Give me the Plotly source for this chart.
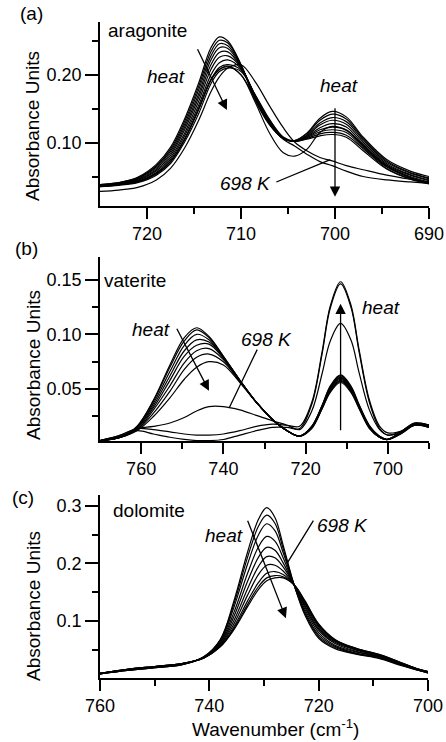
import plotly.graph_objects as go

FONT = "Liberation Sans, Arial, sans-serif"
W, H = 446, 742

# ---------------- Panel (a): aragonite ----------------
wn_a = [725, 723, 721, 719, 717.5, 716, 714.5, 713.2, 712.3, 711.4, 710, 708.5,
        707, 705.5, 704.3, 703, 701.6, 700.3, 698.8, 697, 694.5, 692, 690]
arag = [
    [0.038, 0.041, 0.049, 0.068, 0.093, 0.135, 0.188, 0.240, 0.256, 0.250, 0.215, 0.163, 0.127, 0.106, 0.103, 0.114, 0.136, 0.146, 0.138, 0.108, 0.075, 0.058, 0.050],
    [0.038, 0.041, 0.048, 0.066, 0.090, 0.131, 0.183, 0.234, 0.251, 0.247, 0.215, 0.165, 0.128, 0.106, 0.103, 0.113, 0.133, 0.142, 0.135, 0.106, 0.073, 0.056, 0.048],
    [0.037, 0.040, 0.047, 0.064, 0.087, 0.127, 0.178, 0.228, 0.246, 0.243, 0.214, 0.166, 0.129, 0.106, 0.102, 0.111, 0.129, 0.137, 0.131, 0.104, 0.071, 0.055, 0.047],
    [0.037, 0.040, 0.046, 0.062, 0.084, 0.123, 0.172, 0.222, 0.240, 0.239, 0.213, 0.167, 0.130, 0.106, 0.102, 0.110, 0.126, 0.133, 0.127, 0.101, 0.069, 0.053, 0.045],
    [0.037, 0.039, 0.045, 0.060, 0.081, 0.119, 0.167, 0.215, 0.233, 0.234, 0.212, 0.168, 0.131, 0.106, 0.102, 0.109, 0.122, 0.128, 0.123, 0.098, 0.067, 0.052, 0.044],
    [0.036, 0.039, 0.044, 0.058, 0.078, 0.114, 0.161, 0.208, 0.226, 0.228, 0.211, 0.169, 0.132, 0.107, 0.102, 0.108, 0.119, 0.123, 0.119, 0.096, 0.066, 0.050, 0.042],
    [0.036, 0.038, 0.043, 0.056, 0.075, 0.110, 0.155, 0.200, 0.218, 0.222, 0.209, 0.170, 0.133, 0.107, 0.102, 0.107, 0.116, 0.119, 0.115, 0.093, 0.064, 0.049, 0.041],
    [0.035, 0.038, 0.042, 0.054, 0.072, 0.105, 0.149, 0.193, 0.211, 0.215, 0.207, 0.170, 0.134, 0.108, 0.102, 0.106, 0.113, 0.115, 0.111, 0.091, 0.062, 0.047, 0.040],
    [0.035, 0.037, 0.041, 0.052, 0.069, 0.101, 0.143, 0.187, 0.205, 0.210, 0.205, 0.171, 0.135, 0.108, 0.102, 0.105, 0.110, 0.112, 0.108, 0.088, 0.061, 0.046, 0.039],
    # high-temperature spectra
    [0.036, 0.038, 0.042, 0.054, 0.072, 0.105, 0.150, 0.192, 0.208, 0.213, 0.200, 0.160, 0.115, 0.085, 0.080, 0.090, 0.115, 0.124, 0.118, 0.095, 0.065, 0.048, 0.040],
    [0.028, 0.030, 0.034, 0.045, 0.062, 0.092, 0.133, 0.175, 0.197, 0.210, 0.215, 0.190, 0.155, 0.122, 0.101, 0.088, 0.078, 0.073, 0.066, 0.060, 0.052, 0.046, 0.042],
    [0.036, 0.038, 0.042, 0.054, 0.072, 0.105, 0.150, 0.193, 0.208, 0.212, 0.200, 0.165, 0.128, 0.105, 0.095, 0.083, 0.072, 0.066, 0.058, 0.050, 0.045, 0.042, 0.040],
]

# ---------------- Panel (b): vaterite ----------------
wn_b = [770, 765, 761, 757, 753, 749.5, 746.5, 743.5, 740, 736, 732, 728, 724.5,
        721.5, 718.5, 716, 714, 711.5, 709, 707, 704.5, 702, 700, 696.5, 693.5, 690]
vat = [
    [0.003, 0.006, 0.016, 0.040, 0.072, 0.097, 0.106, 0.098, 0.080, 0.058, 0.038, 0.022, 0.012, 0.007, 0.016, 0.035, 0.053, 0.063, 0.053, 0.036, 0.017, 0.007, 0.004, 0.012, 0.019, 0.017],
    [0.003, 0.006, 0.016, 0.039, 0.070, 0.094, 0.104, 0.097, 0.080, 0.058, 0.038, 0.022, 0.012, 0.007, 0.016, 0.035, 0.052, 0.062, 0.052, 0.035, 0.016, 0.007, 0.004, 0.012, 0.019, 0.017],
    [0.003, 0.006, 0.015, 0.037, 0.066, 0.090, 0.100, 0.095, 0.079, 0.058, 0.038, 0.022, 0.012, 0.007, 0.016, 0.034, 0.051, 0.061, 0.051, 0.035, 0.016, 0.006, 0.004, 0.011, 0.018, 0.016],
    [0.003, 0.006, 0.015, 0.035, 0.062, 0.085, 0.095, 0.093, 0.079, 0.058, 0.038, 0.022, 0.012, 0.007, 0.015, 0.034, 0.051, 0.060, 0.051, 0.034, 0.016, 0.006, 0.004, 0.011, 0.018, 0.016],
    [0.003, 0.006, 0.014, 0.033, 0.058, 0.080, 0.090, 0.091, 0.078, 0.058, 0.038, 0.022, 0.012, 0.007, 0.015, 0.033, 0.050, 0.059, 0.050, 0.034, 0.015, 0.006, 0.004, 0.011, 0.018, 0.016],
    [0.003, 0.006, 0.013, 0.031, 0.053, 0.074, 0.085, 0.087, 0.077, 0.057, 0.038, 0.022, 0.012, 0.007, 0.015, 0.033, 0.049, 0.058, 0.049, 0.033, 0.015, 0.006, 0.004, 0.011, 0.017, 0.015],
    [0.003, 0.006, 0.013, 0.028, 0.048, 0.068, 0.079, 0.082, 0.075, 0.057, 0.038, 0.022, 0.012, 0.007, 0.015, 0.032, 0.048, 0.057, 0.048, 0.033, 0.015, 0.006, 0.004, 0.010, 0.017, 0.015],
    [0.003, 0.006, 0.012, 0.025, 0.042, 0.059, 0.070, 0.075, 0.072, 0.056, 0.038, 0.022, 0.012, 0.007, 0.014, 0.032, 0.047, 0.056, 0.047, 0.032, 0.014, 0.006, 0.004, 0.010, 0.017, 0.015],
    # 698 K and beyond
    [0.003, 0.008, 0.014, 0.016, 0.019, 0.024, 0.030, 0.034, 0.034, 0.031, 0.026, 0.021, 0.017, 0.013, 0.030, 0.064, 0.094, 0.110, 0.095, 0.065, 0.031, 0.013, 0.008, 0.012, 0.018, 0.017],
    [0.003, 0.008, 0.014, 0.013, 0.011, 0.009, 0.008, 0.008, 0.009, 0.012, 0.016, 0.018, 0.017, 0.016, 0.038, 0.084, 0.126, 0.148, 0.127, 0.086, 0.040, 0.016, 0.010, 0.012, 0.018, 0.017],
    [0.003, 0.007, 0.012, 0.009, 0.006, 0.004, 0.003, 0.003, 0.004, 0.008, 0.012, 0.015, 0.015, 0.014, 0.036, 0.082, 0.124, 0.146, 0.125, 0.084, 0.038, 0.014, 0.008, 0.011, 0.017, 0.016],
]

# ---------------- Panel (c): dolomite ----------------
wn_c = [760, 755, 750, 745, 741, 738, 735.5, 733, 731, 729.5, 728, 726.5, 724.5,
        722.5, 720, 717, 713, 709, 705, 702, 700]
dolo = [
    [0.008, 0.014, 0.019, 0.024, 0.038, 0.068, 0.135, 0.220, 0.277, 0.297, 0.280, 0.232, 0.163, 0.110, 0.070, 0.052, 0.042, 0.035, 0.023, 0.015, 0.010],
    [0.008, 0.014, 0.019, 0.024, 0.038, 0.067, 0.130, 0.211, 0.265, 0.284, 0.270, 0.226, 0.163, 0.113, 0.073, 0.054, 0.043, 0.036, 0.024, 0.015, 0.010],
    [0.008, 0.014, 0.019, 0.024, 0.038, 0.065, 0.124, 0.199, 0.250, 0.269, 0.257, 0.219, 0.163, 0.116, 0.076, 0.056, 0.044, 0.037, 0.024, 0.015, 0.010],
    [0.008, 0.015, 0.020, 0.025, 0.037, 0.063, 0.115, 0.183, 0.229, 0.247, 0.239, 0.210, 0.163, 0.120, 0.080, 0.058, 0.046, 0.038, 0.025, 0.016, 0.011],
    [0.009, 0.015, 0.020, 0.025, 0.037, 0.061, 0.108, 0.169, 0.211, 0.228, 0.223, 0.201, 0.163, 0.124, 0.084, 0.061, 0.047, 0.039, 0.026, 0.016, 0.011],
    [0.009, 0.015, 0.020, 0.025, 0.037, 0.059, 0.101, 0.156, 0.195, 0.212, 0.210, 0.194, 0.163, 0.127, 0.087, 0.063, 0.049, 0.040, 0.026, 0.016, 0.011],
    [0.009, 0.016, 0.021, 0.026, 0.036, 0.058, 0.095, 0.145, 0.181, 0.197, 0.197, 0.187, 0.163, 0.130, 0.090, 0.065, 0.050, 0.041, 0.027, 0.017, 0.012],
    [0.009, 0.016, 0.021, 0.026, 0.036, 0.056, 0.090, 0.135, 0.167, 0.183, 0.186, 0.181, 0.163, 0.132, 0.092, 0.066, 0.051, 0.041, 0.027, 0.017, 0.012],
    [0.009, 0.016, 0.021, 0.026, 0.036, 0.056, 0.087, 0.129, 0.160, 0.175, 0.179, 0.177, 0.163, 0.134, 0.094, 0.067, 0.052, 0.042, 0.028, 0.017, 0.012],
    [0.009, 0.016, 0.021, 0.026, 0.036, 0.055, 0.085, 0.125, 0.155, 0.170, 0.175, 0.175, 0.163, 0.135, 0.095, 0.068, 0.052, 0.042, 0.028, 0.017, 0.012],
]

# tick definitions
xa_major = [720, 710, 700, 690]
xa_minor = [715, 705, 695]
ya_major = [0.10, 0.20]
ya_labels = ["0.10", "0.20"]
ya_minor = [0.05, 0.15, 0.25]

xb_major = [760, 740, 720, 700]
xb_minor = [750, 730, 710, 690]
yb_major = [0.05, 0.10, 0.15]
yb_labels = ["0.05", "0.10", "0.15"]
yb_minor = [0.025, 0.075, 0.125]

xc_major = [760, 740, 720, 700]
xc_minor = [750, 730, 710]
yc_major = [0.1, 0.2, 0.3]
yc_labels = ["0.1", "0.2", "0.3"]
yc_minor = [0.05, 0.15, 0.25]

fig = go.Figure()

def add_curves(xs, curves, xa, ya):
    for ys in curves:
        fig.add_trace(go.Scatter(
            x=xs, y=ys, mode="lines", xaxis=xa, yaxis=ya,
            line=dict(color="black", width=1.2, shape="spline", smoothing=1.0),
            showlegend=False, hoverinfo="skip"))

add_curves(wn_a, arag, "x", "y")
add_curves(wn_b, vat, "x2", "y2")
add_curves(wn_c, dolo, "x3", "y3")

def px(x):
    return x / W

def py(y):
    return 1 - y / H

tickfont = dict(family=FONT, size=18, color="black")

def xaxis(rng, major, minor, anchor, right=429):
    return dict(domain=[px(100), px(right)], range=rng, anchor=anchor,
                automargin=False,
                showline=True, linecolor="black", linewidth=1.5,
                showgrid=False, zeroline=False,
                tickmode="array", tickvals=major, ticktext=[str(v) for v in major],
                ticks="outside", ticklen=11, tickwidth=1.5, tickcolor="black",
                minor=dict(tickmode="array", tickvals=minor, ticks="outside",
                           ticklen=6, tickwidth=1.5, tickcolor="black", showgrid=False),
                tickfont=tickfont)

def yaxis(rng, top, bottom, major, labels, minor, anchor):
    return dict(domain=[py(bottom), py(top)], range=rng, anchor=anchor,
                automargin=False,
                showline=True, linecolor="black", linewidth=1.5,
                showgrid=False, zeroline=False,
                tickmode="array", tickvals=major, ticktext=labels,
                ticks="outside", ticklen=13, tickwidth=1.5, tickcolor="black",
                minor=dict(tickmode="array", tickvals=minor, ticks="outside",
                           ticklen=6, tickwidth=1.5, tickcolor="black", showgrid=False),
                tickfont=tickfont)

fig.update_layout(
    template="none",
    width=W, height=H, margin=dict(l=0, r=0, t=0, b=0, pad=0), autosize=False,
    paper_bgcolor="white", plot_bgcolor="white",
    xaxis=xaxis([725, 690], xa_major, xa_minor, "y"),
    yaxis=yaxis([0.0065, 0.278], 22, 206, ya_major, ya_labels, ya_minor, "x"),
    xaxis2=xaxis([770, 690], xb_major, xb_minor, "y2"),
    yaxis2=yaxis([0.0026, 0.1706], 257, 441, yb_major, yb_labels, yb_minor, "x2"),
    xaxis3=xaxis([760, 700], xc_major, xc_minor, "y3", right=428),
    yaxis3=yaxis([0.001, 0.319], 495, 678, yc_major, yc_labels, yc_minor, "x3"),
)

tfont = dict(family=FONT, size=19, color="black")
ann = []

def text(x, y, s, xr, yr, angle=0):
    ann.append(dict(x=x, y=y, text=s, xref=xr, yref=yr, showarrow=False,
                    xanchor="center", yanchor="middle", font=tfont, textangle=angle))

def arrow(x0, y0, x1, y1, xr, yr, head=True):
    ann.append(dict(x=x1, y=y1, ax=x0, ay=y0, xref=xr, yref=yr, axref=xr, ayref=yr,
                    text="", showarrow=True, arrowhead=2 if head else 0,
                    arrowsize=1.6, arrowwidth=1.3, arrowcolor="black", standoff=0))

# panel labels and axis titles (paper coords)
text(px(31), py(14), "(a)", "paper", "paper")
text(px(26), py(248), "(b)", "paper", "paper")
text(px(23), py(497), "(c)", "paper", "paper")
for yc in (126, 365, 606):
    text(px(33), py(yc), "Absorbance Units", "paper", "paper", angle=-90)
text(px(275), py(728), "Wavenumber (cm<sup>-1</sup>)", "paper", "paper")

# panel (a)
text(719.9, 0.266, "aragonite", "x", "y")
text(718.0, 0.197, "<i>heat</i>", "x", "y")
arrow(714.7, 0.240, 711.5, 0.148, "x", "y")
text(699.6, 0.184, "<i>heat</i>", "x", "y")
arrow(700.0, 0.153, 700.0, 0.020, "x", "y")
text(709.5, 0.040, "<i>698 K</i>", "x", "y")
arrow(706.4, 0.041, 700.5, 0.075, "x", "y", head=False)

# panel (b)
text(761.5, 0.149, "vaterite", "x2", "y2")
text(757.6, 0.104, "<i>heat</i>", "x2", "y2")
arrow(751.5, 0.1065, 743.5, 0.0485, "x2", "y2")
text(729.6, 0.095, "<i>698 K</i>", "x2", "y2")
arrow(731.6, 0.0874, 738.6, 0.0327, "x2", "y2", head=False)
text(701.7, 0.1243, "<i>heat</i>", "x2", "y2")
arrow(711.5, 0.011, 711.5, 0.128, "x2", "y2")

# panel (c)
text(751.1, 0.292, "dolomite", "x3", "y3")
text(737.4, 0.249, "<i>heat</i>", "x3", "y3")
arrow(733.1, 0.277, 726.0, 0.105, "x3", "y3")
text(715.7, 0.266, "<i>698 K</i>", "x3", "y3")
arrow(720.8, 0.277, 725.7, 0.2015, "x3", "y3", head=False)

fig.update_layout(annotations=ann)
fig.write_html("out.html", config={"displayModeBar": False},
               post_script="document.body.style.margin='0';document.body.style.overflow='hidden';")
